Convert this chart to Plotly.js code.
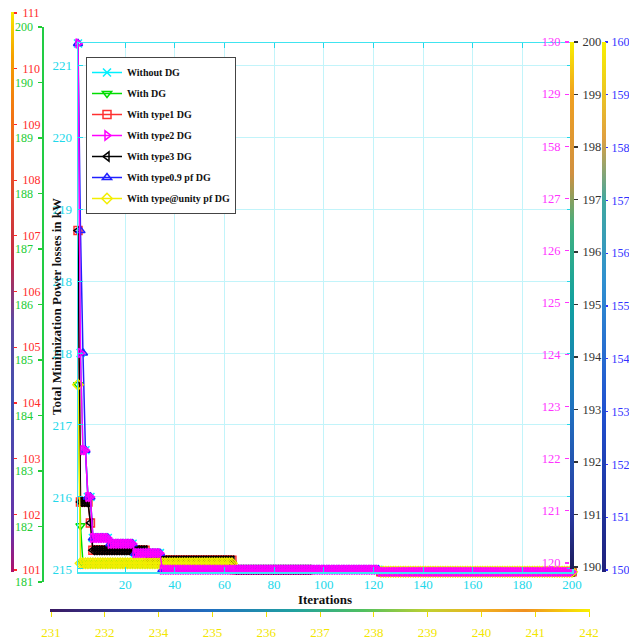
<!DOCTYPE html>
<html><head><meta charset="utf-8">
<script src="https://cdn.plot.ly/plotly-3.0.1.min.js"></script>
<style>html,body{margin:0;padding:0;background:#fff}#chart{width:629px;height:644px}</style>
</head><body><div id="chart"></div>
<script>
// ---- data (step levels in kW and how many iterations each level lasts) ----
const seriesNames = ['Without DG','With DG','With type1 DG','With type2 DG','With type3 DG','With type0.9 pf DG','With type@unity pf DG'];
const withoutDGLevels = [222.3, 218.0, 216.65, 216.0, 215.43, 215.35, 215.22, 214.99, 214.96];
const withoutDGRuns   = [1, 1, 2, 2, 7, 10, 11, 88, 78];
const withDGLevels    = [217.56, 215.6, 215.08, 214.93, 214.96];
const withDGRuns      = [1, 1, 61, 59, 78];
const type1Levels     = [219.7, 215.93, 215.64, 215.26, 215.12, 214.99, 214.92, 214.96];
const type1Runs       = [1, 4, 1, 22, 35, 31, 28, 78];
const type2Levels     = [222.3, 218.0, 216.65, 216.0, 215.43, 215.35, 215.22, 214.99, 214.96];
const type2Runs       = [1, 1, 2, 2, 7, 10, 11, 88, 78];
const type3Levels     = [219.7, 215.93, 215.64, 215.26, 215.12, 214.99, 214.92, 214.96];
const type3Runs       = [1, 4, 1, 22, 35, 31, 28, 78];
const type09Levels    = [222.3, 219.7, 218.0, 216.65, 216.0, 215.43, 215.35, 215.22, 214.99, 214.96];
const type09Runs      = [1, 1, 1, 1, 2, 7, 10, 11, 88, 78];
const unityLevels     = [217.56, 215.08, 214.93, 214.96];
const unityRuns       = [1, 62, 59, 78];
const iterationCount  = 200;

// tick labels as printed in the picture
const mainXTicks      = [20, 40, 60, 80, 100, 120, 140, 160, 180, 200];
const mainYTickVals   = [215, 216, 217, 218, 219, 220, 221, 222];
const mainYTickText   = ['215','216','217','218','218','219','220','221'];
const redTickVals     = [101,102,103,104,105,106,107,108,109,110,111];
const greenTickVals   = [181,182,183,184,185,186,187,188,189,190,191];
const greenTickText   = ['181','182','183','184','185','186','187','188','189','190','200'];
const magentaTickVals = [120,121,122,123,124,125,126,127,128,129,130];
const magentaTickText = ['120','121','122','123','124','125','126','127','158','129','130'];
const blackTickVals   = [190,191,192,193,194,195,196,197,198,199,200];
const blueTickVals    = [150,151,152,153,154,155,156,157,158,159,160];
const bottomTickVals  = [0,1,2,3,4,5,6,7,8,9,10];
const bottomTickText  = ['231','232','234','235','236','237','238','239','240','241','242'];

// ---- build ----
function expand(levels, runs){const out=[];levels.forEach((v,i)=>{for(let k=0;k<runs[i];k++)out.push(v);});return out;}
const iterations = Array.from({length: iterationCount}, (_, i) => i + 1);
const SERIF = 'Liberation Serif, Times New Roman, serif';
const W = 629, H = 644;
const px = v => v / W, py = v => 1 - v / H;

function series(name, levels, runs, color, symbol, rank){
  return {type:'scatter', mode:'lines+markers', name, x: iterations, y: expand(levels, runs),
    line:{color, width:1.5}, marker:{symbol, size:8, color, line:{color, width:1.5}},
    cliponaxis:false, legendrank: rank, legendgroup: 'g'+rank, hoverinfo:'skip'};
}
const traces = [
  series(seriesNames[0], withoutDGLevels, withoutDGRuns, '#00f0ff', 'x-thin-open', 1),
  series(seriesNames[1], withDGLevels, withDGRuns, '#00dd00', 'triangle-down-open', 2),
  series(seriesNames[2], type1Levels, type1Runs, '#ff3030', 'square-open', 3),
  series(seriesNames[4], type3Levels, type3Runs, '#000000', 'triangle-left-open', 5),
  series(seriesNames[5], type09Levels, type09Runs, '#2020ff', 'triangle-up-open', 6),
  series(seriesNames[6], unityLevels, unityRuns, '#f2ee00', 'diamond-open', 7),
  series(seriesNames[3], type2Levels, type2Runs, '#ff00ff', 'triangle-right-open', 4)
];

// gradient coloured axis lines (thin colorbars)
function gradientBar(colorscale, cb){
  return {type:'scatter', mode:'markers', x:[null], y:[null], showlegend:false, hoverinfo:'skip',
    marker:{color:[0], cmin:0, cmax:1, colorscale, showscale:true,
      colorbar:Object.assign({thickness:3, thicknessmode:'pixels', lenmode:'pixels', xpad:0, ypad:0,
        outlinewidth:0, showticklabels:false, ticks:'', title:{text:''}}, cb)}};
}
const csLeft  = [[0,'#b0106a'],[0.07,'#6a30a8'],[0.3,'#4050b0'],[0.45,'#6048a0'],[0.55,'#c02848'],[0.75,'#f05a20'],[0.92,'#f5a000'],[1,'#f8e800']];
const csRight = [[0,'#1c1c5a'],[0.1,'#2838a0'],[0.3,'#2070c0'],[0.5,'#10a0a0'],[0.65,'#40b080'],[0.75,'#d09040'],[0.9,'#f0a020'],[1,'#f8f000']];
const csBlue  = [[0,'#20207a'],[0.3,'#2050d0'],[0.55,'#3090d0'],[0.7,'#40a8a0'],[0.82,'#e0a040'],[1,'#f8f000']];
const csBottom= [[0,'#3a1860'],[0.15,'#3040a0'],[0.3,'#2070c0'],[0.45,'#20a0a0'],[0.58,'#50c060'],[0.7,'#c0d030'],[0.8,'#f0b020'],[0.88,'#f09020'],[1,'#f8f000']];
traces.push(gradientBar(csLeft,  {x:px(10.5), xanchor:'left', y:py(12), yanchor:'top', len:560}));
traces.push(gradientBar(csRight, {x:px(569.5), xanchor:'left', y:py(42), yanchor:'top', len:527, thickness:4}));
traces.push(gradientBar(csBlue,  {x:px(601.5), xanchor:'left', y:py(42), yanchor:'top', len:530, thickness:4}));
traces.push(gradientBar(csBottom,{orientation:'h', x:px(50), xanchor:'left', y:py(608.5), yanchor:'top', len:540}));

// carriers for the extra tick axes
['y3','y4','y5','y6','y7'].forEach(ya => traces.push({type:'scatter', mode:'markers', x:[null], y:[null], xaxis:'x3', yaxis:ya, showlegend:false, hoverinfo:'skip'}));
traces.push({type:'scatter', mode:'markers', x:[null], y:[null], xaxis:'x2', yaxis:'y8', showlegend:false, hoverinfo:'skip'});

function tickFont(color, size){return {family:SERIF, size:size||13, color};}
function sideAxis(domainTop, domainBottom, range, vals, text, color, side, pos, opts){
  opts = opts || {};
  return {domain:[py(domainBottom), py(domainTop)], range, anchor:'free', position:pos, side,
    tickmode:'array', tickvals:vals, ticktext:text, ticks:'outside', ticklen:opts.ticklen||4, tickwidth:1.2, tickcolor:color,
    tickfont:tickFont(color, opts.size), showgrid:false, zeroline:false, showline:!!opts.showline, linecolor:opts.linecolor||color, linewidth:2,
    ticklabelstandoff:opts.standoff==null?2:opts.standoff, fixedrange:true};
}

const cyan = '#22d8ea';
const layout = {
  width:W, height:H, autosize:false,
  margin:{l:0, r:0, t:0, b:0, autoexpand:false},
  paper_bgcolor:'#ffffff', plot_bgcolor:'rgba(0,0,0,0)',
  showlegend:true,
  legend:{x:px(86), y:py(57), xanchor:'left', yanchor:'top', bgcolor:'#ffffff', bordercolor:'#444', borderwidth:1,
    font:{family:SERIF, size:10, color:'#111', weight:'bold'}, itemwidth:30, tracegroupgap:2, traceorder:'grouped'},
  xaxis:{domain:[px(78), px(572)], range:[1, 200], tickmode:'array', tickvals:mainXTicks,
    ticks:'inside', ticklen:5, tickcolor:cyan, showline:true, linecolor:'#40e4f0', linewidth:1.5, mirror:'ticks',
    showgrid:true, gridcolor:'#c2f4fa', gridwidth:1, zeroline:false, tickfont:tickFont(cyan),
    title:{text:'Iterations', font:{family:SERIF, size:13, color:'#111', weight:'bold'}, standoff:0}, fixedrange:true},
  yaxis:{domain:[py(572), py(43)], range:[214.958, 222.306], tickmode:'array', tickvals:mainYTickVals, ticktext:mainYTickText,
    ticks:'inside', ticklen:5, tickcolor:cyan, showline:true, linecolor:'#40e4f0', linewidth:1.5, mirror:'ticks',
    showgrid:true, gridcolor:'#c2f4fa', gridwidth:1, zeroline:false, tickfont:tickFont(cyan), ticklabelstandoff:2, fixedrange:true},
  xaxis3:{visible:false, domain:[0,1], range:[0,1], fixedrange:true},
  yaxis3: sideAxis(13, 570, [101,111], redTickVals, redTickVals.map(String), '#ff2a2a', 'right', px(12), {size:12, standoff:3}),
  yaxis4: sideAxis(27, 582, [181,191], greenTickVals, greenTickText, '#22cc33', 'left', px(42.5), {showline:true, linecolor:'#22cc44', size:12}),
  yaxis5: sideAxis(42, 563, [120,130], magentaTickVals, magentaTickText, '#ff33ff', 'left', px(569), {size:12.5}),
  yaxis6: sideAxis(42, 567, [190,200], blackTickVals, blackTickVals.map(String), '#333333', 'right', px(573), {size:12.5}),
  yaxis7: sideAxis(42, 570, [150,160], blueTickVals, blueTickVals.map(String), '#3333ff', 'right', px(604), {size:12, ticklen:3, standoff:1}),
  yaxis8:{visible:false, domain:[0,1], range:[0,1], fixedrange:true},
  xaxis2:{domain:[px(51), px(589)], range:[0,10], anchor:'free', position:py(611), side:'bottom',
    tickmode:'array', tickvals:bottomTickVals, ticktext:bottomTickText, ticks:'outside', ticklen:5, tickcolor:'#f0e000',
    tickfont:tickFont('#f2e600'), showgrid:false, zeroline:false, showline:false, ticklabelstandoff:4, fixedrange:true},
  annotations:[{text:'Total Minimization Power losses in kW', xref:'paper', yref:'paper', x:px(57), y:py(307),
    xanchor:'center', yanchor:'middle', textangle:-90, showarrow:false,
    font:{family:SERIF, size:13, color:'#111', weight:'bold'}}]
};
Plotly.newPlot('chart', traces, layout, {displayModeBar:false, staticPlot:true});
</script></body></html>
